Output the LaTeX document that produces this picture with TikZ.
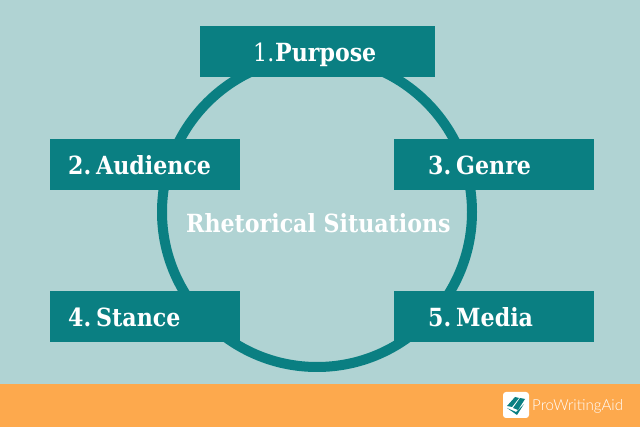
\documentclass[tikz,border=0pt]{standalone}
\usepackage{fontspec}
\setmainfont{DejaVu Serif}
\newfontfamily\logofont{Lato Light}
\usepackage{tikz}
\definecolor{bgblue}{HTML}{B0D3D3}
\definecolor{tealbox}{HTML}{0A7F82}
\definecolor{bandorange}{HTML}{FDA94D}
\tikzset{
	boxnode/.style={fill=tealbox, minimum height=51pt, inner sep=0pt, outer sep=0pt},
	boxtext/.style={text=white, font=\fontsize{25}{28}\selectfont\bfseries, anchor=base west, inner sep=0pt, xscale=0.885},
}
\begin{document}
\begin{tikzpicture}[x=1pt, y=-1pt]
	\useasboundingbox (0,0) rectangle (640,427);
	\fill[bgblue] (0,0) rectangle (640,384);
	\fill[bandorange] (0,384) rectangle (640,427);
	\draw[tealbox, line width=10pt] (317,212) circle (155);
	% boxes
	\node[boxnode, minimum width=235pt] (purpose) at (317.5,51.5) {};
	\node[boxnode, minimum width=190pt] (audience) at (145,164.5) {};
	\node[boxnode, minimum width=200pt] (genre) at (494,164.5) {};
	\node[boxnode, minimum width=190pt] (stance) at (145,316.5) {};
	\node[boxnode, minimum width=200pt] (media) at (494,316.5) {};
	% labels
	\node[boxtext, font=\fontsize{25}{28}\selectfont] (purposenum) at (253,62) {1.};
	\node[boxtext] (purposetext) at (275,62) {Purpose};
	\node[boxtext] (audiencetext) at (68,175) {2.\hspace{-6pt} Audience};
	\node[boxtext] (genretext) at (428,175) {3.\hspace{-6pt} Genre};
	\node[boxtext] (stancetext) at (68,327) {4.\hspace{-6pt} Stance};
	\node[boxtext] (mediatext) at (428,327) {5.\hspace{-6pt} Media};
	\node[boxtext] (centertext) at (186,233) {Rhetorical Situations};
	% logo
	\fill[white, rounded corners=3pt] (503,392) rectangle (529,418);
	\fill[tealbox] (507,406) -- (515,397) -- (519,398) -- (512,407) -- cycle;
	\fill[tealbox] (513,408) -- (520,398) -- (525,399) -- (518,410) -- cycle;
	\fill[tealbox] (507,408) -- (516,412) -- (524,404) -- (517,415) -- cycle;
	\node[text=white, font=\logofont\fontsize{15.1}{17}\selectfont, anchor=base west, inner sep=0pt] (logotext) at (532,411) {ProWritingAid};
\end{tikzpicture}
\end{document}
